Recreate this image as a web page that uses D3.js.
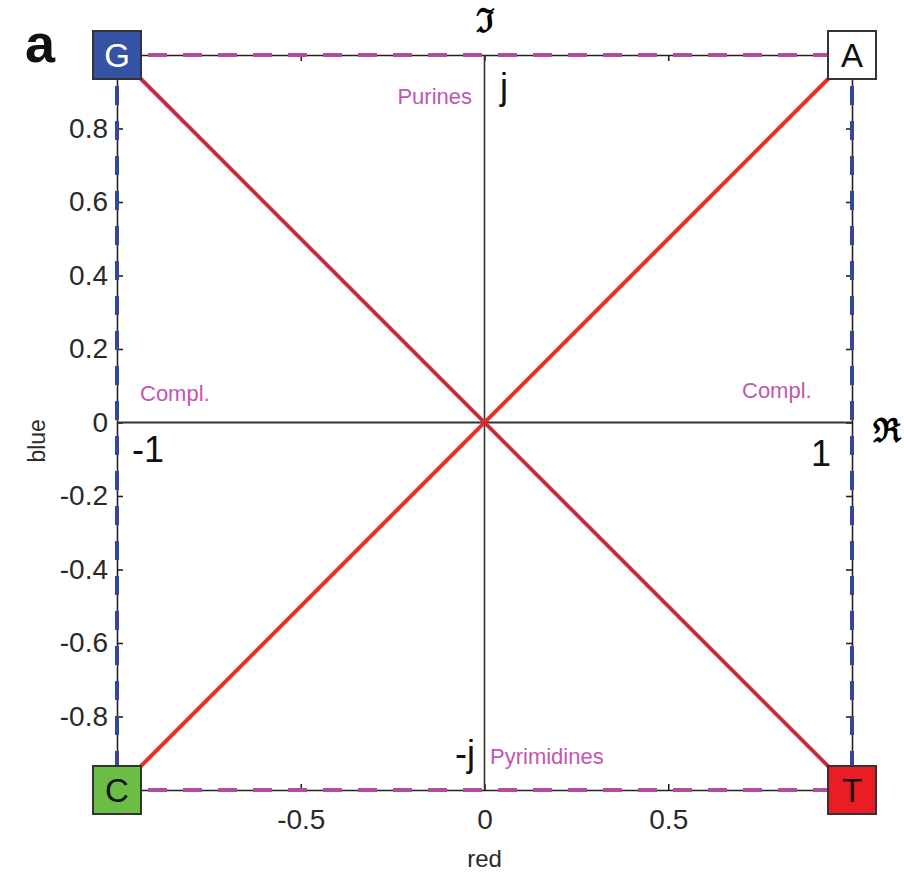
<!DOCTYPE html>
<html>
<head>
<meta charset="utf-8">
<script src="https://cdn.jsdelivr.net/npm/d3@7"></script>
<style>
  body { margin: 0; background: #fff; }
  svg { display: block; font-family: "Liberation Sans", Arial, sans-serif; }
</style>
</head>
<body>
<svg width="904" height="872"></svg>
<script>
//* data
var bases = ["G", "A", "C", "T"];
var baseRe = [-1, 1, -1, 1];
var baseIm = [1, 1, -1, -1];
var baseFill = ["#3652a4", "#ffffff", "#6bbd45", "#ec1c24"];
var baseText = ["#ffffff", "#111111", "#111111", "#111111"];
var diagonals = [["C", "A"], ["G", "T"]];
var xTicks = [-0.5, 0, 0.5];
var yTicks = [-0.8, -0.6, -0.4, -0.2, 0, 0.2, 0.4, 0.6, 0.8];
var groupLabels = ["Purines", "Pyrimidines", "Compl.", "Compl."];

var svg = d3.select("svg");
var x = d3.scaleLinear().domain([-1, 1]).range([117, 852]);
var y = d3.scaleLinear().domain([-1, 1]).range([790, 55]);

function pos(b) {
	var i = bases.indexOf(b);
	return [x(baseRe[i]), y(baseIm[i])];
}

// matlab style labels: plain hyphen, "0" without decimals
function tickFmt(d) {
	return d === 0 ? "0" : d3.format(".1f")(d).replace("\u2212", "-");
}

/* axes with inner ticks, box style */
svg.append("g")
	.attr("transform", "translate(" + x(-1) + ",0)")
	.call(d3.axisLeft(y).tickValues(yTicks).tickSize(-6).tickPadding(9).tickFormat(tickFmt))
	.call(styleAxis);
svg.append("g")
	.attr("transform", "translate(" + x(1) + ",0)")
	.call(d3.axisRight(y).tickValues(yTicks).tickSize(-6).tickFormat(""))
	.call(styleAxis);
svg.append("g")
	.attr("transform", "translate(0," + y(-1) + ")")
	.call(d3.axisBottom(x).tickValues(xTicks).tickSize(-6).tickPadding(19).tickFormat(tickFmt))
	.call(styleAxis);
svg.append("g")
	.attr("transform", "translate(0," + y(1) + ")")
	.call(d3.axisTop(x).tickValues(xTicks).tickSize(-6).tickFormat(""))
	.call(styleAxis);

function styleAxis(g) {
	g.select(".domain").attr("stroke", "#222").attr("stroke-width", 1.6);
	g.selectAll(".tick line").attr("stroke", "#222").attr("stroke-width", 1.6);
	g.selectAll(".tick text")
		.attr("fill", "#2a2a2a")
		.style("font-size", "28px")
		.style("font-family", "'Liberation Sans', Arial, sans-serif");
}

/* real and imaginary axes */
svg.append("line")
	.attr("x1", x(-1)).attr("x2", x(1))
	.attr("y1", y(0)).attr("y2", y(0))
	.attr("stroke", "#333").attr("stroke-width", 2);
svg.append("line")
	.attr("x1", x(0)).attr("x2", x(0))
	.attr("y1", y(1)).attr("y2", y(-1))
	.attr("stroke", "#333").attr("stroke-width", 1.6);

/* dashed sides: purines/pyrimidines (magenta), complements (blue) */
var sides = [["G", "A", "#b24c9f"], ["C", "T", "#b24c9f"], ["G", "C", "#34479b"], ["A", "T", "#34479b"]];
svg.selectAll("line.side")
	.data(sides)
	.enter()
	.append("line")
	.attr("class", "side")
	.attr("x1", function(d) { return pos(d[0])[0]; })
	.attr("y1", function(d) { return pos(d[0])[1]; })
	.attr("x2", function(d) { return pos(d[1])[0]; })
	.attr("y2", function(d) { return pos(d[1])[1]; })
	.attr("stroke", function(d) { return d[2]; })
	.attr("stroke-width", 4)
	.attr("stroke-dasharray", "19,16")
	.attr("stroke-dashoffset", 4);

/* diagonals */
svg.selectAll("line.diag")
	.data(diagonals)
	.enter()
	.append("line")
	.attr("class", "diag")
	.attr("x1", function(d) { return pos(d[0])[0]; })
	.attr("y1", function(d) { return pos(d[0])[1]; })
	.attr("x2", function(d) { return pos(d[1])[0]; })
	.attr("y2", function(d) { return pos(d[1])[1]; })
	.attr("stroke", "#ee2b24")
	.attr("stroke-width", 4);
svg.append("line")
	.attr("x1", pos("G")[0]).attr("y1", pos("G")[1])
	.attr("x2", pos("T")[0]).attr("y2", pos("T")[1])
	.attr("stroke", "#5a3f8f")
	.attr("stroke-width", 1.2)
	.attr("stroke-opacity", 0.8);

/* base boxes */
var box = svg.selectAll("g.base")
	.data(bases)
	.enter()
	.append("g")
	.attr("class", "base")
	.attr("transform", function(d) { var p = pos(d); return "translate(" + p[0] + "," + p[1] + ")"; });
box.append("rect")
	.attr("x", -24).attr("y", -24)
	.attr("width", 48).attr("height", 48)
	.attr("fill", function(d, i) { return baseFill[i]; })
	.attr("stroke", "#333")
	.attr("stroke-width", 2);
box.append("text")
	.attr("text-anchor", "middle")
	.attr("y", 12)
	.attr("fill", function(d, i) { return baseText[i]; })
	.style("font-size", "33px")
	.text(function(d) { return d; });

/* magenta group labels */
var labelPos = [[472, 104, "end"], [490, 764, "start"], [140, 401, "start"], [742, 398, "start"]];
svg.selectAll("text.group")
	.data(groupLabels)
	.enter()
	.append("text")
	.attr("class", "group")
	.attr("x", function(d, i) { return labelPos[i][0]; })
	.attr("y", function(d, i) { return labelPos[i][1]; })
	.attr("text-anchor", function(d, i) { return labelPos[i][2]; })
	.attr("fill", "#c256b2")
	.style("font-size", "22px")
	.text(function(d) { return d; });

/* unit markers */
var marks = [["j", 500, 99, "start"], ["-j", 475, 766, "end"], ["-1", 132, 462, "start"], ["1", 831, 466, "end"]];
svg.selectAll("text.unit")
	.data(marks)
	.enter()
	.append("text")
	.attr("class", "unit")
	.attr("x", function(d) { return d[1]; })
	.attr("y", function(d) { return d[2]; })
	.attr("text-anchor", function(d) { return d[3]; })
	.attr("fill", "#111")
	.style("font-size", "36px")
	.text(function(d) { return d[0]; });

/* fraktur axis symbols */
svg.append("text")
	.attr("x", 485).attr("y", 32)
	.attr("text-anchor", "middle")
	.style("font-family", "'DejaVu Serif', serif")
	.style("font-weight", "bold")
	.style("font-size", "33px")
	.text("\u2111");
svg.append("text")
	.attr("x", 887).attr("y", 442)
	.attr("text-anchor", "middle")
	.style("font-family", "'DejaVu Serif', serif")
	.style("font-weight", "bold")
	.style("font-size", "33px")
	.text("\u211C");

/* axis titles */
svg.append("text")
	.attr("x", x(0)).attr("y", 867)
	.attr("text-anchor", "middle")
	.attr("fill", "#2a2a2a")
	.style("font-size", "24px")
	.text("red");
svg.append("text")
	.attr("transform", "translate(45," + y(-0.05) + ") rotate(-90)")
	.attr("text-anchor", "middle")
	.attr("fill", "#2a2a2a")
	.style("font-size", "23px")
	.text("blue");

/* panel letter */
svg.append("text")
	.attr("x", 25).attr("y", 62)
	.attr("fill", "#111")
	.style("font-size", "54px")
	.style("font-weight", "bold")
	.text("a");
</script>
</body>
</html>
